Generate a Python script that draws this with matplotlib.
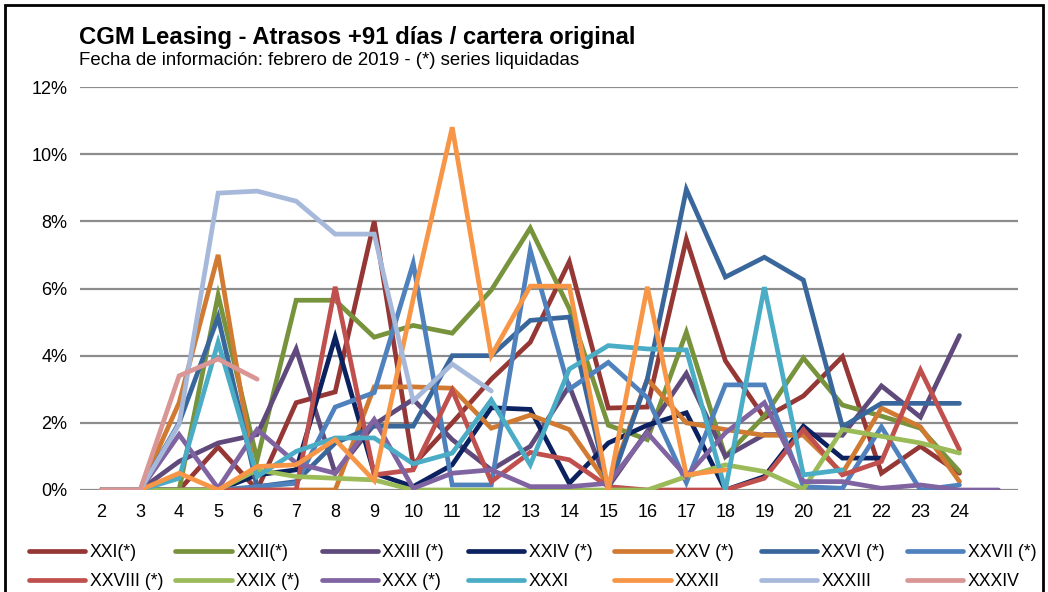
import matplotlib.pyplot as plt
from matplotlib.patches import Rectangle

plt.rcParams['font.family'] = ['Liberation Sans', 'DejaVu Sans']

# periodos (el 25 no lleva etiqueta en el eje)
PERIODS = [2, 3, 4, 5, 6, 7, 8, 9, 10, 11, 12, 13, 14, 15, 16, 17, 18, 19, 20, 21, 22, 23, 24, 25]
TICKS = [2, 3, 4, 5, 6, 7, 8, 9, 10, 11, 12, 13, 14, 15, 16, 17, 18, 19, 20, 21, 22, 23, 24]

# atrasos +91 dias / cartera original, en %, desde el periodo 2
XXI = [0, 0, 0, 1.28, 0, 2.6, 2.92, 8.0, 0.75, 2.0, 3.3, 4.4, 6.8, 2.44, 2.47, 7.47, 3.85, 2.15, 2.8, 3.97, 0.5, 1.3, 0.5]
XXII = [0, 0, 0, 5.8, 0.9, 5.65, 5.65, 4.55, 4.9, 4.67, 5.95, 7.8, 5.4, 1.93, 1.5, 4.7, 1.0, 2.2, 3.93, 2.53, 2.2, 1.84, 0.55]
XXIII = [0, 0, 0.85, 1.4, 1.65, 4.2, 0.5, 1.95, 2.7, 1.5, 0.6, 1.3, 3.1, 0.1, 1.75, 3.47, 1.0, 1.65, 1.65, 1.63, 3.1, 2.17, 4.6]
XXIV = [0, 0, 0, 0, 0.45, 0.6, 4.55, 0.5, 0.1, 0.75, 2.45, 2.4, 0.2, 1.4, 1.93, 2.3, 0, 0.4, 1.9, 0.95, 0.95]
XXV = [0, 0, 2.6, 7.0, 0, 0, 0, 3.07, 3.07, 3.03, 1.84, 2.23, 1.8, 0.15, 3.3, 2.0, 1.8, 1.63, 1.63, 0.5, 2.44, 1.88, 0.25]
XXVI = [0, 0, 2.0, 5.15, 0.1, 0.25, 1.4, 1.9, 1.9, 4.0, 4.0, 5.05, 5.15, 0, 3.3, 8.95, 6.34, 6.93, 6.25, 1.88, 2.58, 2.58, 2.58]
XXVII = [0, 0, 0, 0, 0.1, 0.2, 2.47, 2.9, 6.75, 0.15, 0.15, 7.14, 3.0, 3.8, 2.75, 0.22, 3.13, 3.13, 0.1, 0.05, 1.88, 0, 0.15]
XXVIII = [0, 0, 0, 0, 0, 0, 6.05, 0.45, 0.6, 2.97, 0.25, 1.12, 0.9, 0.1, 0, 0, 0, 0.35, 1.8, 0.45, 0.85, 3.57, 1.2]
XXIX = [0, 0, 0, 0, 0.6, 0.4, 0.35, 0.3, 0, 0, 0, 0, 0, 0, 0, 0.4, 0.75, 0.55, 0.03, 1.8, 1.6, 1.4, 1.1]
XXX = [0, 0, 1.65, 0.05, 1.8, 0.8, 0.5, 2.1, 0.05, 0.5, 0.6, 0.1, 0.1, 0.2, 1.7, 0.4, 1.7, 2.6, 0.25, 0.25, 0.05, 0.15, 0, 0]
XXXI = [0, 0, 0.35, 4.4, 0.4, 1.15, 1.55, 1.55, 0.78, 1.1, 2.68, 0.75, 3.6, 4.3, 4.2, 4.17, 0, 6.04, 0.45, 0.6]
XXXII = [0, 0, 0.5, 0, 0.7, 0.75, 1.5, 0.28, 5.7, 10.8, 4.0, 6.07, 6.07, 0, 6.05, 0.45, 0.6]
XXXIII = [0, 0, 1.96, 8.84, 8.9, 8.6, 7.62, 7.62, 2.65, 3.75, 2.95]
XXXIV = [0, 0, 3.4, 3.9, 3.3]

SERIES = [XXI, XXII, XXIII, XXIV, XXV, XXVI, XXVII, XXVIII, XXIX, XXX, XXXI, XXXII, XXXIII, XXXIV]
NAMES = ["XXI(*)", "XXII(*)", "XXIII (*)", "XXIV (*)", "XXV (*)", "XXVI (*)", "XXVII (*)",
         "XXVIII (*)", "XXIX (*)", "XXX (*)", "XXXI", "XXXII", "XXXIII", "XXXIV"]
COLORS = ['#953735', '#77933C', '#604A7B', '#0B2160', '#D07A32', '#3A679B', '#4F81BD',
          '#C0504D', '#9BBB59', '#8064A2', '#4BACC6', '#F79646', '#A6B9DA', '#D99694']

fig = plt.figure(figsize = (10.48, 5.92), dpi = 100)
ax = fig.add_axes([80 / 1048, 1 - 490 / 592, 938 / 1048, 403 / 592])

lines = []
for i, (vals, name, col) in enumerate(zip(SERIES, NAMES, COLORS)):
  ln, = ax.plot(PERIODS[:len(vals)], vals, color = col, lw = 3.4, label = name,
                solid_joinstyle = 'miter', solid_capstyle = 'round', zorder = 3 + i)
  lines.append(ln)

ax.set_xlim(1.46, 25.5)
ax.set_ylim(0, 12)
ax.set_yticks([0, 2, 4, 6, 8, 10, 12])
ax.set_yticklabels(["{:d}%".format(v) for v in [0, 2, 4, 6, 8, 10, 12]], fontsize = 13)
ax.set_xticks(TICKS)
ax.set_xticklabels([str(t) for t in TICKS], fontsize = 13)
ax.tick_params(length = 0)
ax.tick_params(axis = 'x', pad = 10)
ax.tick_params(axis = 'y', pad = 9)
ax.grid(axis = 'y', color = '#8C8C8C', lw = 1.6)
ax.set_axisbelow(True)
for s in ax.spines.values():
  s.set_visible(False)

fig.text(79 / 1048, 1 - 44 / 592, "CGM Leasing - Atrasos +91 días / cartera original",
         fontsize = 17.2, fontweight = 'bold', va = 'baseline')
fig.text(79 / 1048, 1 - 65 / 592, "Fecha de información: febrero de 2019 - (*) series liquidadas",
         fontsize = 13.4, va = 'baseline')

# leyenda en 7 columnas de igual ancho, como en Excel
for c in range(7):
  hs = [lines[c], lines[c + 7]]
  fig.legend(hs, [h.get_label() for h in hs], loc = 'center left',
             bbox_to_anchor = ((29 + 146.3 * c) / 1048, 1 - 567 / 592),
             frameon = False, borderpad = 0, borderaxespad = 0, handlelength = 3.2,
             handletextpad = 0.25, labelspacing = 0.68, prop = {'size': 12.7})

fig.add_artist(Rectangle((5 / 1048, -0.05), 1038 / 1048, 1.05 - 5 / 592, transform = fig.transFigure,
                         fill = False, lw = 2, ec = 'black'))

fig.savefig("out.png", dpi = 100)
